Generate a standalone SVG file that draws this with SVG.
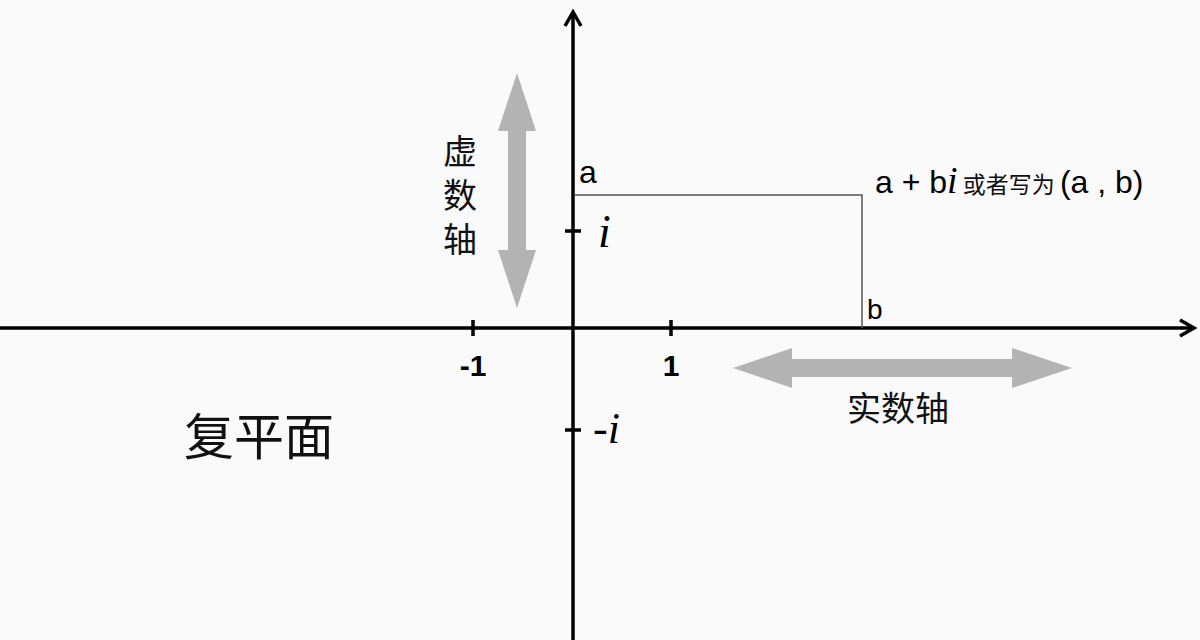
<svg xmlns="http://www.w3.org/2000/svg" width="1200" height="640" viewBox="0 0 1200 640">
<defs>
<style>
.axis{stroke:#000;stroke-width:3.5;fill:none}
.tick{stroke:#000;stroke-width:3.5}
.rect{stroke:#555;stroke-width:1.5;fill:none}
.gray{fill:#b3b3b3}
.lat{font-family:"Liberation Sans","DejaVu Sans",sans-serif;fill:#000}
.it{font-family:"Liberation Serif",serif;font-style:italic;fill:#000}
.cjk{font-family:"Noto Sans CJK SC",sans-serif;fill:#111}
</style>
</defs>
<rect width="1200" height="640" fill="#fafafa"/>
<g id="connectors">
<line class="axis" x1="573" y1="14" x2="573" y2="640"/>
<polyline class="axis" points="565,26 573,12 581,26"/>
<line class="axis" x1="0" y1="328" x2="1192" y2="328"/>
<polyline class="axis" points="1180,320 1194,328 1180,336"/>
<line class="tick" x1="473" y1="320" x2="473" y2="336"/>
<line class="tick" x1="671" y1="320" x2="671" y2="336"/>
<line class="tick" x1="565" y1="231" x2="581" y2="231"/>
<line class="tick" x1="565" y1="430" x2="581" y2="430"/>
<polyline class="rect" points="575,195 862,195 862,328"/>
</g>
<g id="imag-arrow">
<polygon class="gray" points="517,73 536,131 526,131 526,250 536,250 517,308 498,250 508,250 508,131 498,131"/>
</g>
<g id="real-arrow">
<polygon class="gray" points="733,368 792,348 792,359 1012,359 1012,348 1072,368 1012,388 1012,377 792,377 792,388"/>
</g>
<g id="labels">
<text class="lat" x="579" y="183" font-size="32">a</text>
<text class="lat" x="867" y="319" font-size="28">b</text>
<text x="875" y="193" font-size="32"><tspan class="lat">a + b</tspan><tspan class="it" font-size="38">i</tspan><tspan class="cjk" font-size="23"> 或者写为 </tspan><tspan class="lat">(a , b)</tspan></text>
<text class="it" x="598" y="247" font-size="46">i</text>
<text class="it" x="593" y="443" font-size="44">-i</text>
<text class="lat" x="473" y="376" font-size="30" font-weight="bold" text-anchor="middle">-1</text>
<text class="lat" x="671" y="376" font-size="30" font-weight="bold" text-anchor="middle">1</text>
</g>
<g id="imag-label">
<text class="cjk" x="460" y="134" font-size="34" writing-mode="tb" letter-spacing="10">虚数轴</text>
</g>
<g id="real-label">
<text class="cjk" x="898" y="421" font-size="34" text-anchor="middle">实数轴</text>
</g>
<g id="plane-label">
<text class="cjk" x="259" y="455" font-size="50" text-anchor="middle">复平面</text>
</g>
</svg>
